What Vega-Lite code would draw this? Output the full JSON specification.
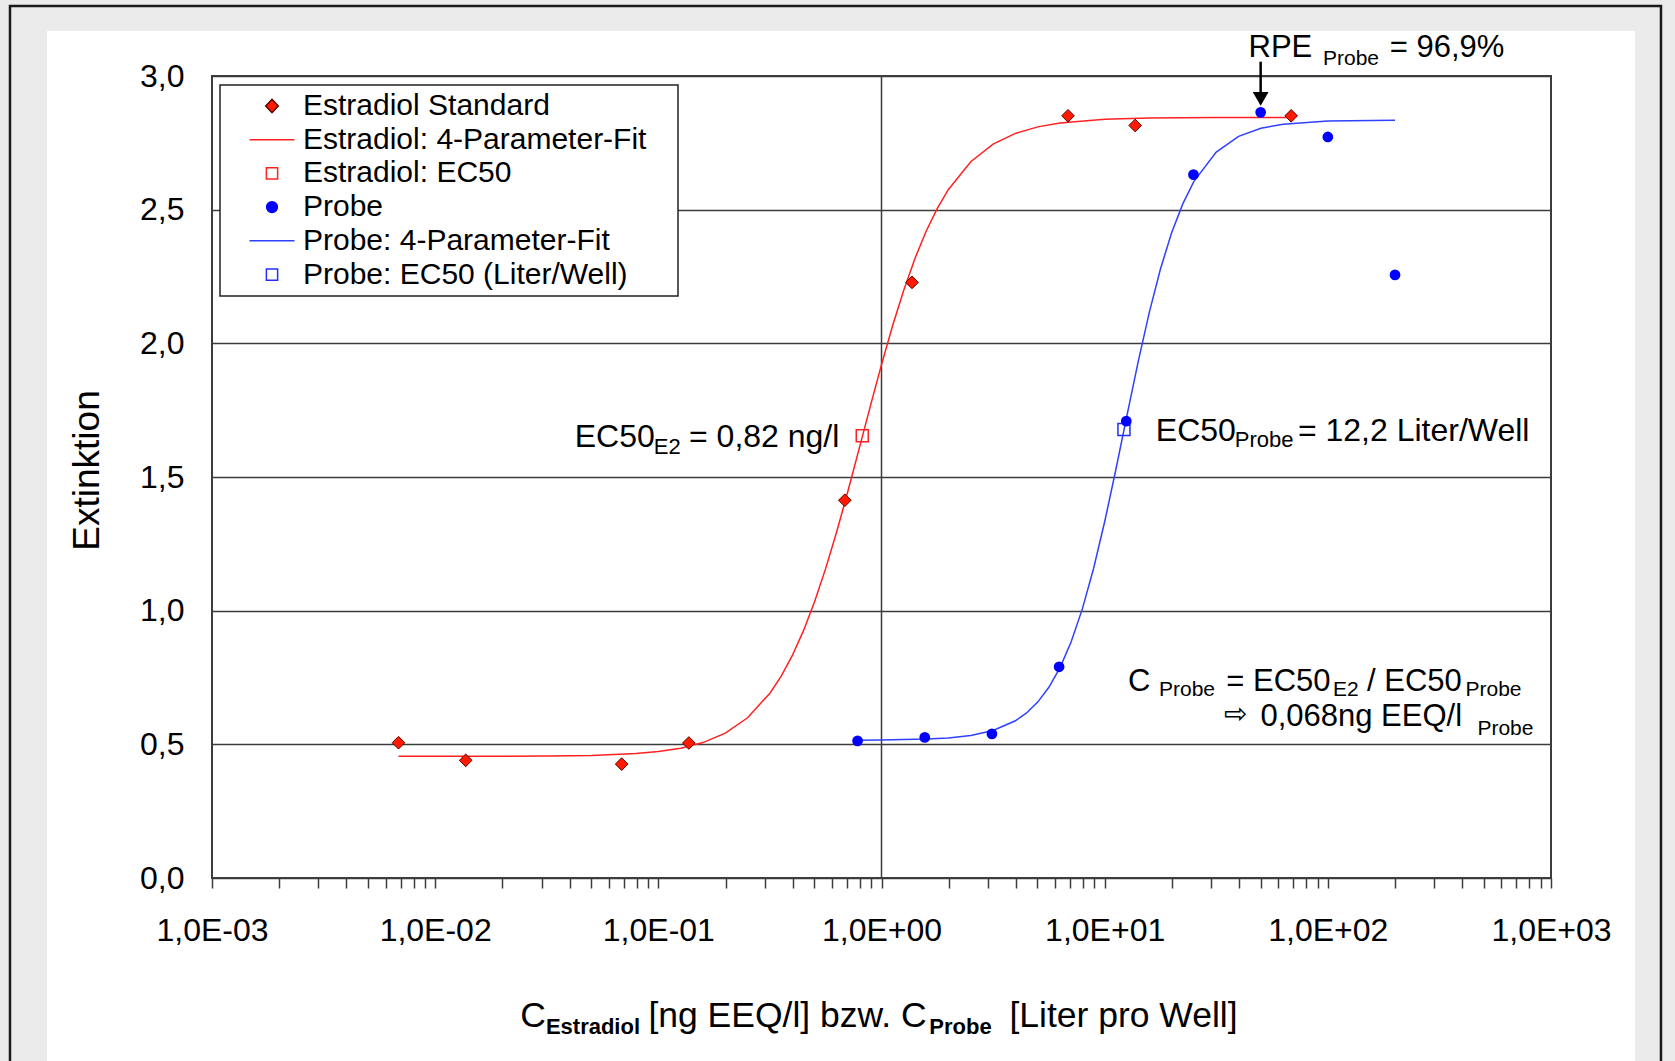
{
  "$schema": "https://vega.github.io/schema/vega-lite/v6.json",
  "width": 1339,
  "height": 802,
  "autosize": "none",
  "padding": {"left": 212, "top": 76, "right": 124, "bottom": 183},
  "background": "white",
  "config": {
    "font": "Liberation Sans",
    "view": {"stroke": "#3c3c3c", "strokeWidth": 2},
    "legend": {"strokeWidth": 1.5}
  },
  "resolve": {"axis": {"x": "independent", "y": "independent"}},
  "data": {"values": [{}]},
  "datasets": {
    "e2": [
      {"conc": 0.00685, "ext": 0.506}, {"conc": 0.0137, "ext": 0.44}, {"conc": 0.0685, "ext": 0.426},
      {"conc": 0.137, "ext": 0.505}, {"conc": 0.685, "ext": 1.413}, {"conc": 1.37, "ext": 2.228},
      {"conc": 6.85, "ext": 2.851}, {"conc": 13.7, "ext": 2.815}, {"conc": 68.5, "ext": 2.851}
    ],
    "probe": [
      {"conc": 0.78125, "ext": 0.513}, {"conc": 1.5625, "ext": 0.526}, {"conc": 3.125, "ext": 0.539},
      {"conc": 6.25, "ext": 0.79}, {"conc": 12.5, "ext": 1.709}, {"conc": 25, "ext": 2.631},
      {"conc": 50, "ext": 2.864}, {"conc": 100, "ext": 2.772}, {"conc": 200, "ext": 2.256}
    ],
    "e2fit": [
      {"conc": 0.00685, "ext": 0.455}, {"conc": 0.015849, "ext": 0.4553}, {"conc": 0.031623, "ext": 0.4563},
      {"conc": 0.050119, "ext": 0.4586}, {"conc": 0.079433, "ext": 0.4656}, {"conc": 0.1, "ext": 0.473},
      {"conc": 0.12589, "ext": 0.4855}, {"conc": 0.15849, "ext": 0.5066}, {"conc": 0.19953, "ext": 0.5418},
      {"conc": 0.25119, "ext": 0.5993}, {"conc": 0.31623, "ext": 0.6912}, {"conc": 0.35481, "ext": 0.7544},
      {"conc": 0.39811, "ext": 0.8316}, {"conc": 0.44668, "ext": 0.9243}, {"conc": 0.50119, "ext": 1.0333},
      {"conc": 0.56234, "ext": 1.1582}, {"conc": 0.63096, "ext": 1.2974}, {"conc": 0.70795, "ext": 1.4483},
      {"conc": 0.79433, "ext": 1.606}, {"conc": 0.89125, "ext": 1.7652}, {"conc": 1, "ext": 1.9204},
      {"conc": 1.122, "ext": 2.0665}, {"conc": 1.2589, "ext": 2.1998}, {"conc": 1.4125, "ext": 2.3177},
      {"conc": 1.5849, "ext": 2.4192}, {"conc": 1.7783, "ext": 2.5047}, {"conc": 1.9953, "ext": 2.5755},
      {"conc": 2.5119, "ext": 2.6794}, {"conc": 3.1623, "ext": 2.745}, {"conc": 3.9811, "ext": 2.7854},
      {"conc": 5.0119, "ext": 2.8097}, {"conc": 6.3096, "ext": 2.8242}, {"conc": 10, "ext": 2.8378},
      {"conc": 15.849, "ext": 2.8425}, {"conc": 31.623, "ext": 2.8445}, {"conc": 68.5, "ext": 2.845}
    ],
    "probefit": [
      {"conc": 0.78125, "ext": 0.5155}, {"conc": 1, "ext": 0.5161}, {"conc": 1.5849, "ext": 0.5195},
      {"conc": 1.9953, "ext": 0.5241}, {"conc": 2.5119, "ext": 0.5333}, {"conc": 3.1623, "ext": 0.5517},
      {"conc": 3.9811, "ext": 0.588}, {"conc": 4.4668, "ext": 0.6174}, {"conc": 5.0119, "ext": 0.658},
      {"conc": 5.6234, "ext": 0.7133}, {"conc": 6.3096, "ext": 0.7872}, {"conc": 7.0795, "ext": 0.884},
      {"conc": 7.9433, "ext": 1.0067}, {"conc": 8.9125, "ext": 1.1569}, {"conc": 10, "ext": 1.3325},
      {"conc": 11.22, "ext": 1.527}, {"conc": 12.589, "ext": 1.7305}, {"conc": 14.125, "ext": 1.9307},
      {"conc": 15.849, "ext": 2.116}, {"conc": 17.783, "ext": 2.2782}, {"conc": 19.953, "ext": 2.4135},
      {"conc": 22.387, "ext": 2.5217}, {"conc": 25.119, "ext": 2.6057}, {"conc": 31.623, "ext": 2.7156},
      {"conc": 39.811, "ext": 2.7744}, {"conc": 50.119, "ext": 2.8046}, {"conc": 63.096, "ext": 2.8199},
      {"conc": 100, "ext": 2.8313}, {"conc": 200, "ext": 2.8342}
    ],
    "ec50e2": [{"conc": 0.82, "ext": 1.654}],
    "ec50probe": [{"conc": 12.2, "ext": 1.678}],
    "legend": [
      {"entry": "Estradiol Standard"}, {"entry": "Estradiol: 4-Parameter-Fit"}, {"entry": "Estradiol: EC50"},
      {"entry": "Probe"}, {"entry": "Probe: 4-Parameter-Fit"}, {"entry": "Probe: EC50 (Liter/Well)"}
    ]
  },
  "layer": [
    {"mark": {"type": "rect", "fill": "#ebebeb"},
     "encoding": {"x": {"datum": 0.00001, "axis": null}, "x2": {"datum": 0.00018224}, "y": {"datum": -1, "axis": null}, "y2": {"datum": 3.5}}},
    {"mark": {"type": "rect", "fill": "#ebebeb"},
     "encoding": {"x": {"datum": 0.00001, "axis": null}, "x2": {"datum": 100000}, "y": {"datum": 3.16833, "axis": null}, "y2": {"datum": 3.5}}},
    {"mark": {"type": "rect", "fill": "#ebebeb"},
     "encoding": {"x": {"datum": 2378.9, "axis": null}, "x2": {"datum": 100000}, "y": {"datum": -1, "axis": null}, "y2": {"datum": 3.5}}},
    {"mark": {"type": "rect", "fill": "transparent", "stroke": "#1a1a1a", "strokeWidth": 2.5},
     "encoding": {"x": {"datum": 0.0001244, "axis": null}, "x2": {"datum": 3110.5}, "y": {"datum": -1, "axis": null}, "y2": {"datum": 3.26185}}},
    {"mark": {"type": "rule", "stroke": "#3c3c3c", "strokeWidth": 1.5},
     "encoding": {"x": {"datum": 1, "axis": null}}},
    {"data": {"name": "e2fit"},
     "mark": {"type": "line", "color": "#ff2020", "strokeWidth": 1.5},
     "encoding": {"x": {"field": "conc", "type": "quantitative", "axis": null}, "y": {"field": "ext", "type": "quantitative", "axis": null}}},
    {"data": {"name": "probefit"},
     "mark": {"type": "line", "color": "#3040ff", "strokeWidth": 1.5},
     "encoding": {"x": {"field": "conc", "type": "quantitative", "axis": null}, "y": {"field": "ext", "type": "quantitative", "axis": null}}},
    {"data": {"name": "ec50e2"},
     "mark": {"type": "point", "shape": "square", "filled": false, "stroke": "#ff2020", "strokeWidth": 1.5, "size": 144, "opacity": 1},
     "encoding": {"x": {"field": "conc", "type": "quantitative", "axis": null}, "y": {"field": "ext", "type": "quantitative", "axis": null}}},
    {"data": {"name": "ec50probe"},
     "mark": {"type": "point", "shape": "square", "filled": false, "stroke": "#2030ff", "strokeWidth": 1.5, "size": 144, "opacity": 1},
     "encoding": {"x": {"field": "conc", "type": "quantitative", "axis": null}, "y": {"field": "ext", "type": "quantitative", "axis": null}}},
    {"data": {"name": "e2"},
     "mark": {"type": "point", "shape": "diamond", "filled": true, "fill": "#ff1a00", "stroke": "#5a0000", "strokeWidth": 1, "size": 160, "opacity": 1},
     "encoding": {
       "x": {"field": "conc", "type": "quantitative",
             "scale": {"type": "log", "domain": [0.001, 1000], "nice": false},
             "axis": {"title": null, "orient": "bottom",
                      "values": [0.001,0.002,0.003,0.004,0.005,0.006,0.007,0.008,0.009,0.01,0.02,0.03,0.04,0.05,0.06,0.07,0.08,0.09,0.1,0.2,0.3,0.4,0.5,0.6,0.7,0.8,0.9,1,2,3,4,5,6,7,8,9,10,20,30,40,50,60,70,80,90,100,200,300,400,500,600,700,800,900,1000],
                      "labelExpr": "abs(log(datum.value)/LN10 - round(log(datum.value)/LN10)) < 0.01 ? '1,0E' + (round(log(datum.value)/LN10) < 0 ? '-' : '+') + '0' + abs(round(log(datum.value)/LN10)) : ''",
                      "grid": false, "domain": false, "ticks": true, "tickSize": 10, "tickColor": "#3c3c3c", "tickWidth": 1.5,
                      "labelFontSize": 32, "labelFont": "Liberation Sans", "labelColor": "black", "labelPadding": 27,
                      "labelOverlap": false, "labelFlush": false, "labelBound": false, "labelAngle": 0}},
       "y": {"field": "ext", "type": "quantitative",
             "scale": {"type": "linear", "domain": [0, 3], "nice": false, "zero": false},
             "axis": {"title": "Extinktion", "orient": "left", "values": [0, 0.5, 1, 1.5, 2, 2.5, 3],
                      "labelExpr": "replace(format(datum.value, '.1f'), '.', ',')",
                      "grid": true, "gridColor": "#3c3c3c", "gridWidth": 1.5, "domain": false, "ticks": false,
                      "labelFontSize": 32, "labelFont": "Liberation Sans", "labelColor": "black", "labelPadding": 28,
                      "labelFlush": false, "labelOverlap": false,
                      "titleFontSize": 37, "titleFont": "Liberation Sans", "titleFontWeight": "normal", "titleColor": "black",
                      "titleAngle": -90, "titleX": -114, "titleY": 394, "titleAlign": "center", "titleBaseline": "alphabetic"}}
     }},
    {"data": {"name": "probe"},
     "mark": {"type": "point", "shape": "circle", "filled": true, "fill": "#0000ff", "strokeWidth": 0, "size": 115, "opacity": 1},
     "encoding": {"x": {"field": "conc", "type": "quantitative", "axis": null}, "y": {"field": "ext", "type": "quantitative", "axis": null}}},
    {"mark": {"type": "rule", "stroke": "black", "strokeWidth": 2.5},
     "encoding": {"x": {"datum": 50, "axis": null}, "y": {"datum": 3.0535, "axis": null}, "y2": {"datum": 2.94}}},
    {"mark": {"type": "point", "shape": "triangle-down", "filled": true, "fill": "black", "size": 250, "opacity": 1, "strokeWidth": 0},
     "encoding": {"x": {"datum": 50, "axis": null}, "y": {"datum": 2.9145, "axis": null}}},

    {"mark": {"type": "text", "text": "EC50", "align": "left", "baseline": "alphabetic", "fontSize": 32, "color": "black"},
     "encoding": {"x": {"datum": 0.042194, "axis": null}, "y": {"datum": 1.61334, "axis": null}}},
    {"mark": {"type": "text", "text": "E2", "align": "left", "baseline": "alphabetic", "fontSize": 22, "color": "black"},
     "encoding": {"x": {"datum": 0.095337, "axis": null}, "y": {"datum": 1.58604, "axis": null}}},
    {"mark": {"type": "text", "text": "= 0,82 ng/l", "align": "left", "baseline": "alphabetic", "fontSize": 32, "color": "black"},
     "encoding": {"x": {"datum": 0.13722, "axis": null}, "y": {"datum": 1.61334, "axis": null}}},

    {"mark": {"type": "text", "text": "EC50", "align": "left", "baseline": "alphabetic", "fontSize": 32, "color": "black"},
     "encoding": {"x": {"datum": 16.948, "axis": null}, "y": {"datum": 1.63653, "axis": null}}},
    {"mark": {"type": "text", "text": "Probe", "align": "left", "baseline": "alphabetic", "fontSize": 22, "color": "black"},
     "encoding": {"x": {"datum": 38.29, "axis": null}, "y": {"datum": 1.61035, "axis": null}}},
    {"mark": {"type": "text", "text": "= 12,2 Liter/Well", "align": "left", "baseline": "alphabetic", "fontSize": 32, "color": "black"},
     "encoding": {"x": {"datum": 73.43, "axis": null}, "y": {"datum": 1.63653, "axis": null}}},

    {"mark": {"type": "text", "text": "RPE", "align": "left", "baseline": "alphabetic", "fontSize": 31, "color": "black"},
     "encoding": {"x": {"datum": 44.11, "axis": null}, "y": {"datum": 3.06995, "axis": null}}},
    {"mark": {"type": "text", "text": "Probe", "align": "left", "baseline": "alphabetic", "fontSize": 21, "color": "black"},
     "encoding": {"x": {"datum": 95.14, "axis": null}, "y": {"datum": 3.04115, "axis": null}}},
    {"mark": {"type": "text", "text": "= 96,9%", "align": "left", "baseline": "alphabetic", "fontSize": 31, "color": "black"},
     "encoding": {"x": {"datum": 189.3, "axis": null}, "y": {"datum": 3.06995, "axis": null}}},

    {"mark": {"type": "text", "text": "C", "align": "left", "baseline": "alphabetic", "fontSize": 31, "color": "black"},
     "encoding": {"x": {"datum": 12.72, "axis": null}, "y": {"datum": 0.6995, "axis": null}}},
    {"mark": {"type": "text", "text": "Probe", "align": "left", "baseline": "alphabetic", "fontSize": 21, "color": "black"},
     "encoding": {"x": {"datum": 17.52, "axis": null}, "y": {"datum": 0.67893, "axis": null}}},
    {"mark": {"type": "text", "text": "= EC50", "align": "left", "baseline": "alphabetic", "fontSize": 31, "color": "black"},
     "encoding": {"x": {"datum": 35.08, "axis": null}, "y": {"datum": 0.6995, "axis": null}}},
    {"mark": {"type": "text", "text": "E2", "align": "left", "baseline": "alphabetic", "fontSize": 21, "color": "black"},
     "encoding": {"x": {"datum": 105.47, "axis": null}, "y": {"datum": 0.67893, "axis": null}}},
    {"mark": {"type": "text", "text": "/ EC50", "align": "left", "baseline": "alphabetic", "fontSize": 31, "color": "black"},
     "encoding": {"x": {"datum": 149.8, "axis": null}, "y": {"datum": 0.6995, "axis": null}}},
    {"mark": {"type": "text", "text": "Probe", "align": "left", "baseline": "alphabetic", "fontSize": 21, "color": "black"},
     "encoding": {"x": {"datum": 413.9, "axis": null}, "y": {"datum": 0.67893, "axis": null}}},

    {"mark": {"type": "text", "text": "⇨", "align": "center", "baseline": "middle", "fontSize": 28, "color": "black", "font": "DejaVu Sans"},
     "encoding": {"x": {"datum": 38.69, "axis": null}, "y": {"datum": 0.61122, "axis": null}}},
    {"mark": {"type": "text", "text": "0,068ng EEQ/l", "align": "left", "baseline": "alphabetic", "fontSize": 31, "color": "black"},
     "encoding": {"x": {"datum": 49.87, "axis": null}, "y": {"datum": 0.56708, "axis": null}}},
    {"mark": {"type": "text", "text": "Probe", "align": "left", "baseline": "alphabetic", "fontSize": 21, "color": "black"},
     "encoding": {"x": {"datum": 467.9, "axis": null}, "y": {"datum": 0.53491, "axis": null}}},

    {"mark": {"type": "text", "text": "C", "align": "left", "baseline": "alphabetic", "fontSize": 35.5, "color": "black"},
     "encoding": {"x": {"datum": 0.024046, "axis": null}, "y": {"datum": -0.55736, "axis": null}}},
    {"mark": {"type": "text", "text": "Estradiol", "align": "left", "baseline": "alphabetic", "fontSize": 22, "fontWeight": "bold", "color": "black"},
     "encoding": {"x": {"datum": 0.031346, "axis": null}, "y": {"datum": -0.58354, "axis": null}}},
    {"mark": {"type": "text", "text": "[ng EEQ/l] bzw. C", "align": "left", "baseline": "alphabetic", "fontSize": 35.5, "color": "black"},
     "encoding": {"x": {"datum": 0.090258, "axis": null}, "y": {"datum": -0.55736, "axis": null}}},
    {"mark": {"type": "text", "text": "Probe", "align": "left", "baseline": "alphabetic", "fontSize": 22, "fontWeight": "bold", "color": "black"},
     "encoding": {"x": {"datum": 1.6376, "axis": null}, "y": {"datum": -0.58354, "axis": null}}},
    {"mark": {"type": "text", "text": "[Liter pro Well]", "align": "left", "baseline": "alphabetic", "fontSize": 35.5, "color": "black"},
     "encoding": {"x": {"datum": 3.7418, "axis": null}, "y": {"datum": -0.55736, "axis": null}}},

    {"data": {"name": "legend"},
     "mark": {"type": "point", "opacity": 0},
     "encoding": {
       "shape": {"field": "entry", "type": "nominal",
                 "scale": {"domain": ["Estradiol Standard", "Estradiol: 4-Parameter-Fit", "Estradiol: EC50", "Probe", "Probe: 4-Parameter-Fit", "Probe: EC50 (Liter/Well)"],
                           "range": ["M-0.28,0L0,-0.3L0.28,0L0,0.3Z", "M-1,0L1,0", "M-0.25,-0.25L0.25,-0.25L0.25,0.25L-0.25,0.25Z", "M-0.24,0A0.24,0.24,0,1,1,0.24,0A0.24,0.24,0,1,1,-0.24,0Z", "M-1,0L1,0", "M-0.25,-0.25L0.25,-0.25L0.25,0.25L-0.25,0.25Z"]},
                 "legend": {"title": null, "orient": "none", "legendX": 8, "legendY": 9, "padding": 6, "strokeColor": "#222222", "fillColor": "white",
                            "symbolSize": 2025, "symbolStrokeWidth": 1.5, "symbolOffset": 22.5, "labelOffset": 7.5, "clipHeight": 30, "rowPadding": 3.7,
                            "labelFontSize": 30, "labelFont": "Liberation Sans", "labelColor": "black", "labelLimit": 600, "symbolOpacity": 1,
                            "labelExpr": "datum.label + '\u00a0\u00a0\u00a0\u200b'"}},
       "fill": {"field": "entry", "type": "nominal",
                "scale": {"domain": ["Estradiol Standard", "Estradiol: 4-Parameter-Fit", "Estradiol: EC50", "Probe", "Probe: 4-Parameter-Fit", "Probe: EC50 (Liter/Well)"],
                          "range": ["#ff1a00", "transparent", "transparent", "#0000ff", "transparent", "transparent"]},
                "legend": {"title": null, "orient": "none", "legendX": 8, "legendY": 9, "padding": 6, "strokeColor": "#222222", "fillColor": "white",
                           "symbolSize": 2025, "symbolStrokeWidth": 1.5, "symbolOffset": 22.5, "labelOffset": 7.5, "clipHeight": 30, "rowPadding": 3.7,
                           "labelFontSize": 30, "labelFont": "Liberation Sans", "labelColor": "black", "labelLimit": 600, "symbolOpacity": 1,
                           "labelExpr": "datum.label + '\u00a0\u00a0\u00a0\u200b'"}},
       "stroke": {"field": "entry", "type": "nominal",
                  "scale": {"domain": ["Estradiol Standard", "Estradiol: 4-Parameter-Fit", "Estradiol: EC50", "Probe", "Probe: 4-Parameter-Fit", "Probe: EC50 (Liter/Well)"],
                            "range": ["#5a0000", "#ff2020", "#ff2020", "#0000ff", "#3040ff", "#2030ff"]},
                  "legend": {"title": null, "orient": "none", "legendX": 8, "legendY": 9, "padding": 6, "strokeColor": "#222222", "fillColor": "white",
                             "symbolSize": 2025, "symbolStrokeWidth": 1.5, "symbolOffset": 22.5, "labelOffset": 7.5, "clipHeight": 30, "rowPadding": 3.7,
                             "labelFontSize": 30, "labelFont": "Liberation Sans", "labelColor": "black", "labelLimit": 600, "symbolOpacity": 1,
                             "labelExpr": "datum.label + '\u00a0\u00a0\u00a0\u200b'"}}
     }}
  ]
}
